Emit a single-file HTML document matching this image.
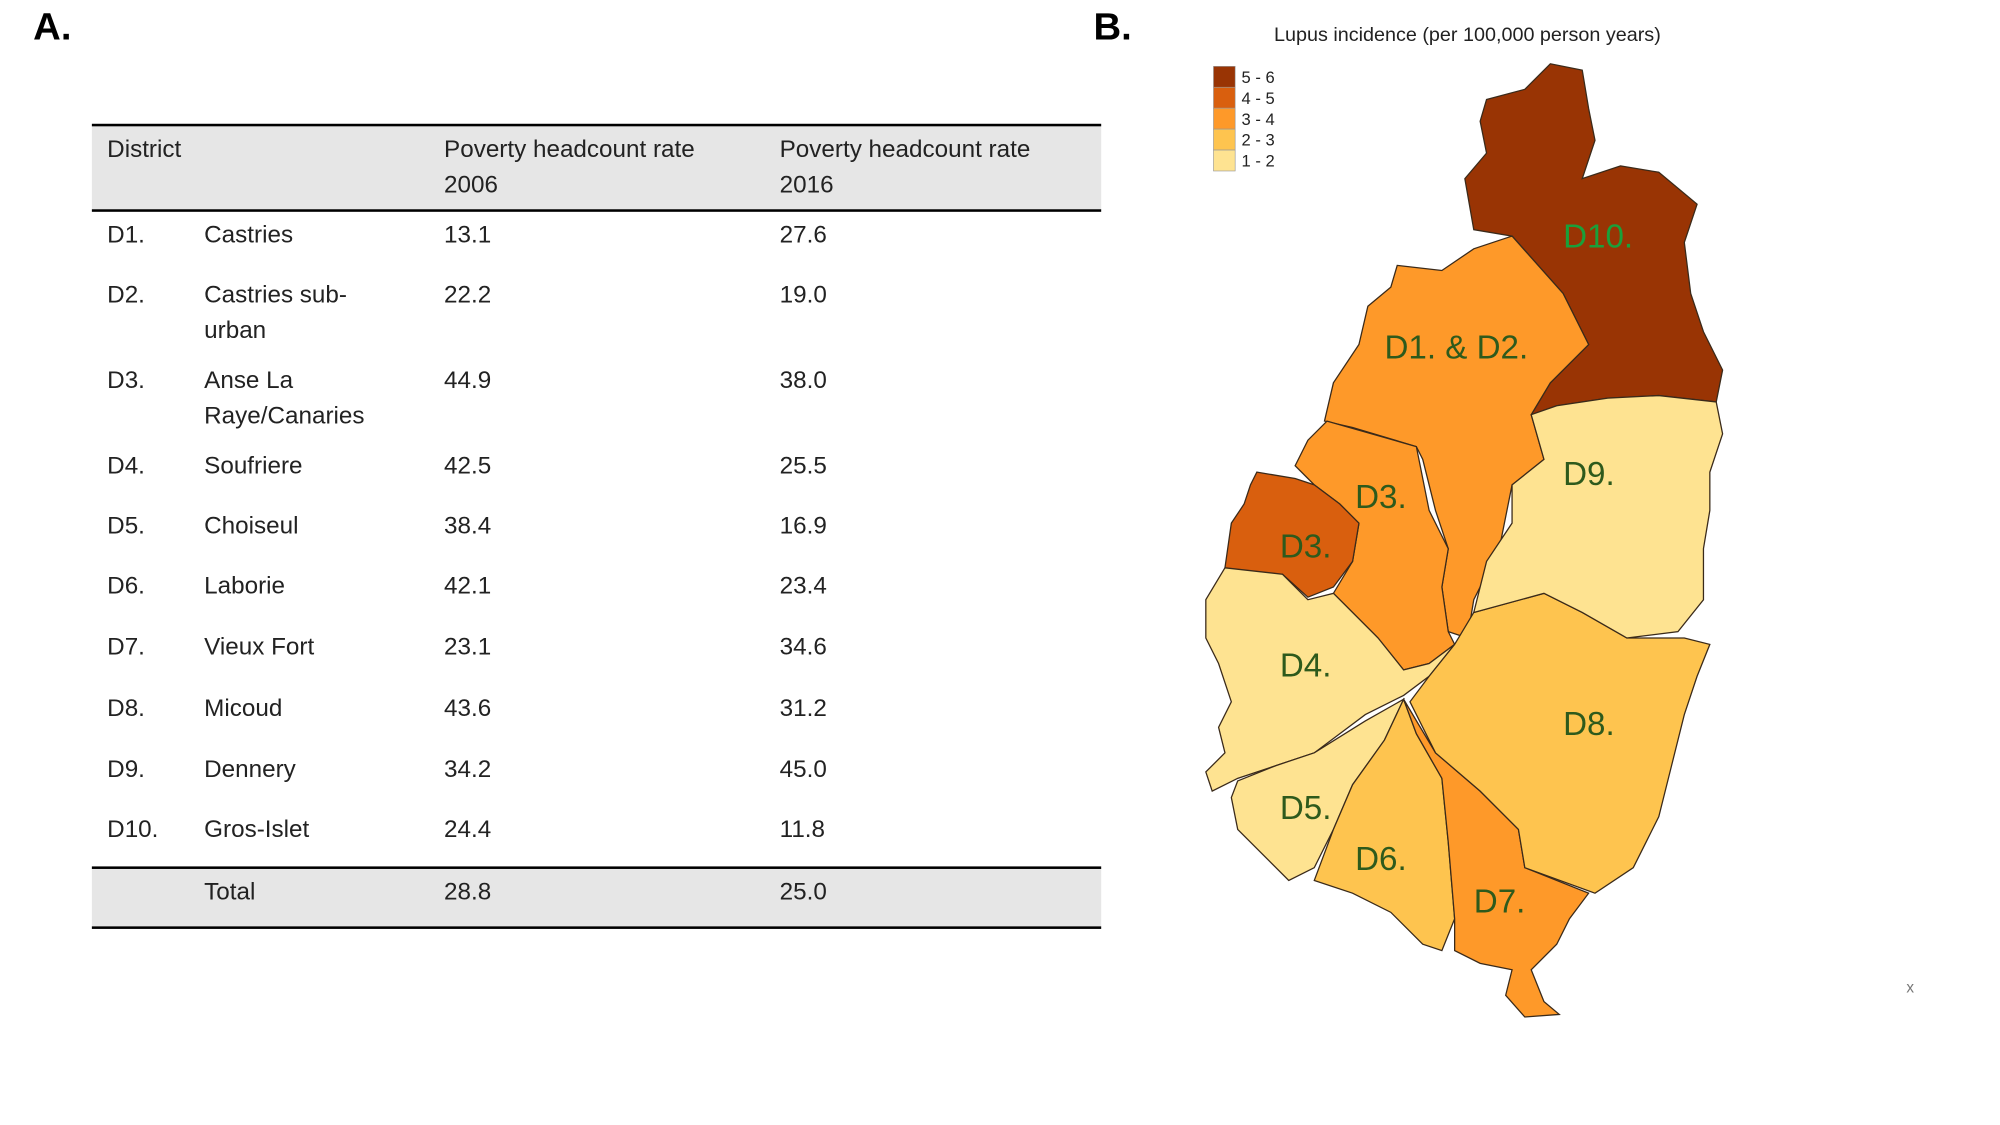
<!DOCTYPE html>
<html><head><meta charset="utf-8"><style>
html,body{margin:0;padding:0;background:#fff;width:2000px;height:1125px;overflow:hidden}
#wrap{position:absolute;left:0;top:0;width:1568px;height:882px;transform:scale(1.276);transform-origin:0 0;font-family:"Liberation Sans",sans-serif}
.t{position:absolute;font-size:19px;color:#222;line-height:28px;white-space:nowrap}
.hl{position:absolute;left:72px;width:791px;background:#000;height:2px}
</style></head><body>
<div id="wrap">
<div class="t" style="left:26px;top:8px;font-size:30px;font-weight:bold;color:#000">A.</div>
<div class="t" style="left:857px;top:8px;font-size:30px;font-weight:bold;color:#000">B.</div>
<div style="position:absolute;left:72px;top:98px;width:791px;height:67px;background:#e6e6e6"></div>
<div style="position:absolute;left:72px;top:680px;width:791px;height:47px;background:#e6e6e6"></div>
<div class="hl" style="top:97px"></div>
<div class="hl" style="top:164px"></div>
<div class="hl" style="top:679px"></div>
<div class="hl" style="top:726px"></div>
<div id="table"></div>
<svg style="position:absolute;left:0;top:0" width="1568" height="882">
<g stroke="#3a2a1a" stroke-width="1">
<polygon fill="#993404" points="1165,78 1195,70 1215,50 1240,55 1245,85 1250,110 1240,140 1270,130 1300,135 1330,160 1320,190 1325,230 1335,260 1350,290 1345,315 1300,310 1260,312 1220,318 1200,325 1215,300 1245,270 1225,230 1185,185 1155,180 1148,140 1165,120 1160,95"/>
<polygon fill="#fe9929" points="1185,185 1225,230 1245,270 1215,300 1200,325 1210,360 1185,380 1175,430 1155,470 1150,500 1135,495 1130,460 1135,430 1125,400 1115,360 1110,350 1060,335 1038,330 1045,300 1065,270 1072,240 1090,225 1095,208 1130,212 1155,195"/>
<polygon fill="#fe9929" points="1040,330 1110,350 1120,400 1135,430 1130,460 1135,495 1140,505 1120,520 1100,525 1080,500 1060,480 1045,465 1060,440 1065,410 1050,395 1030,380 1015,365 1025,345"/>
<polygon fill="#d95f0e" points="985,370 1015,375 1030,380 1050,395 1065,410 1060,440 1045,460 1025,468 1005,450 980,450 960,445 965,410 975,395 980,380"/>
<polygon fill="#fee391" points="960,445 1005,450 1025,470 1045,465 1080,500 1100,525 1120,520 1140,505 1120,530 1100,545 1070,560 1030,590 1000,600 970,610 950,620 945,605 960,590 955,570 965,550 955,520 945,500 945,470"/>
<polygon fill="#fee391" points="970,612 1000,600 1030,590 1070,565 1100,548 1085,580 1060,615 1045,650 1030,680 1010,690 995,675 970,650 965,625"/>
<polygon fill="#fec44f" points="1100,548 1110,575 1130,610 1135,660 1140,720 1130,745 1115,740 1090,715 1060,700 1030,690 1045,650 1060,615 1085,580"/>
<polygon fill="#fe9929" points="1100,548 1125,590 1160,620 1190,650 1195,680 1245,700 1230,720 1220,740 1200,760 1210,785 1222,795 1195,797 1180,780 1185,760 1160,755 1140,745 1140,720 1135,660 1130,610 1110,575"/>
<polygon fill="#fec44f" points="1120,530 1140,505 1155,480 1210,465 1240,480 1275,500 1320,500 1340,505 1330,530 1320,560 1310,600 1300,640 1290,660 1280,680 1250,700 1195,680 1190,650 1160,620 1125,590 1105,550"/>
<polygon fill="#fee391" points="1200,325 1220,318 1260,312 1300,310 1345,315 1350,340 1340,370 1340,400 1335,430 1335,470 1315,495 1275,500 1240,480 1210,465 1155,480 1165,440 1185,410 1185,380 1210,360"/>
</g>
<g font-family="Liberation Sans, sans-serif" font-size="26" fill="#2e5a1c">
<text x="1225" y="194" fill="#1aa03a">D10.</text>
<text x="1085" y="281">D1. &amp; D2.</text>
<text x="1225" y="380">D9.</text>
<text x="1062" y="398">D3.</text>
<text x="1003" y="437">D3.</text>
<text x="1003" y="530">D4.</text>
<text x="1225" y="576">D8.</text>
<text x="1003" y="642">D5.</text>
<text x="1062" y="682">D6.</text>
<text x="1155" y="715">D7.</text>
</g>
<text x="1150" y="32" text-anchor="middle" font-family="Liberation Sans, sans-serif" font-size="15.5" fill="#222">Lupus incidence (per 100,000 person years)</text>
<g id="legend"></g>
<text x="1494" y="778" font-family="Liberation Sans, sans-serif" font-size="12" fill="#777">x</text>
</svg>
</div>
<script>
const districts=["D1.","D2.","D3.","D4.","D5.","D6.","D7.","D8.","D9.","D10."];
const names=["Castries","Castries sub-<br>urban","Anse La<br>Raye/Canaries","Soufriere","Choiseul","Laborie","Vieux Fort","Micoud","Dennery","Gros-Islet"];
const rate2006=["13.1","22.2","44.9","42.5","38.4","42.1","23.1","43.6","34.2","24.4"];
const rate2016=["27.6","19.0","38.0","25.5","16.9","23.4","34.6","31.2","45.0","11.8"];
const rowTops=[171,218,285,352,399,446,494,542,590,637];
const legendLabels=["5 - 6","4 - 5","3 - 4","2 - 3","1 - 2"];
const legendColors=["#993404","#d95f0e","#fe9929","#fec44f","#fee391"];
const tb=document.getElementById('table');
function cell(x,y,html,name){const d=document.createElement('div');d.className='t';d.style.left=x+'px';d.style.top=y+'px';d.innerHTML=html;


tb.appendChild(d);}
cell(84,104,"District","header-district");
cell(348,104,"Poverty headcount rate<br>2006","header-2006");
cell(611,104,"Poverty headcount rate<br>2016","header-2016");
districts.forEach((d,i)=>{const y=rowTops[i];
cell(84,y,d,"district-code");cell(160,y,names[i],"district-name");cell(348,y,rate2006[i],"rate-2006");cell(611,y,rate2016[i],"rate-2016");});
cell(160,686,"Total","total-label");cell(348,686,"28.8","total-2006");cell(611,686,"25.0","total-2016");
const lg=document.getElementById('legend');const ns="http://www.w3.org/2000/svg";
legendLabels.forEach((l,i)=>{const y=52+i*16.4;
const r=document.createElementNS(ns,'rect');r.setAttribute('x',951);r.setAttribute('y',y);r.setAttribute('width',17);r.setAttribute('height',16.4);r.setAttribute('fill',legendColors[i]);r.setAttribute('stroke','#999');r.setAttribute('stroke-width','0.5');


lg.appendChild(r);
const t=document.createElementNS(ns,'text');t.setAttribute('x',973);t.setAttribute('y',y+13);t.setAttribute('font-size','13');t.setAttribute('font-family','Liberation Sans, sans-serif');t.setAttribute('fill','#222');t.textContent=l;


lg.appendChild(t);});
</script>
</body></html>
